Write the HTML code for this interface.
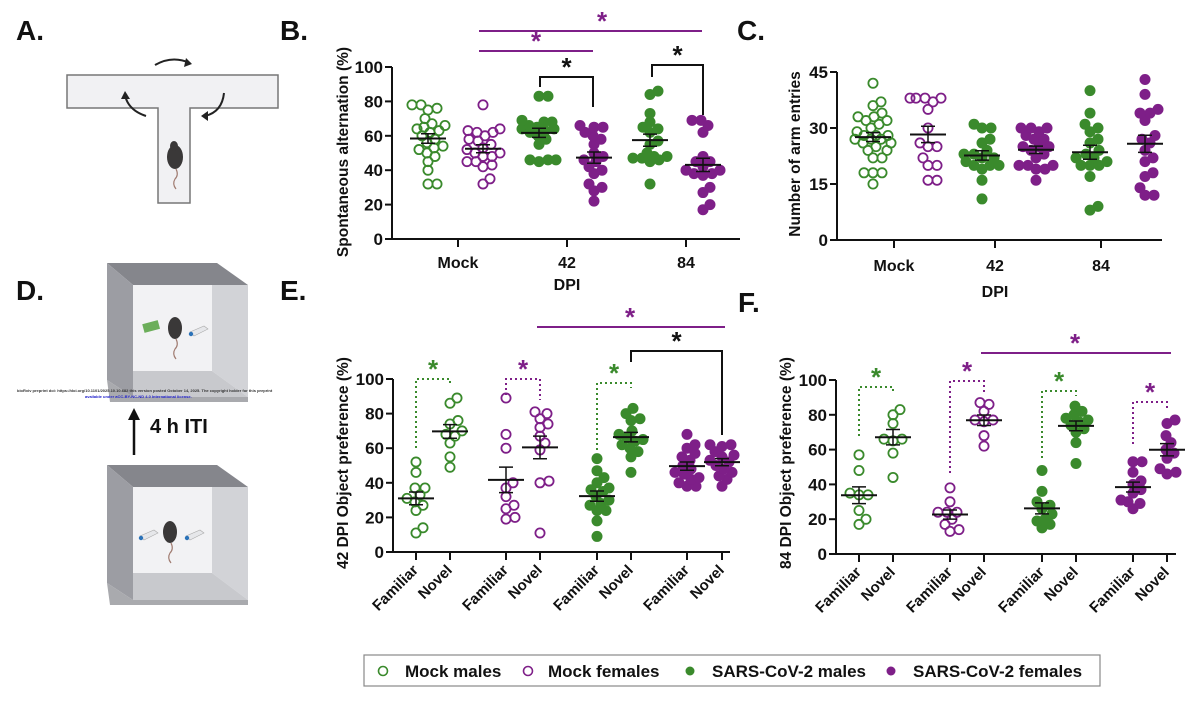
<!DOCTYPE html>
<html><head><meta charset="utf-8">
<style>
html,body{margin:0;padding:0;background:#fff;}
svg{display:block;font-family:"Liberation Sans",Arial,sans-serif;}
text{font-weight:bold;}
</style></head>
<body>
<svg id="fig" width="1200" height="702" viewBox="0 0 1200 702" xmlns="http://www.w3.org/2000/svg">
  <g font-size="28" fill="#111">
    <text x="16" y="40">A.</text>
    <text x="280" y="40">B.</text>
    <text x="737" y="40">C.</text>
    <text x="16" y="300">D.</text>
    <text x="280" y="300">E.</text>
    <text x="738" y="312">F.</text>
  </g>
  <g>
    <path d="M67,75 H278 V108 H190 V203 H158 V108 H67 Z" fill="#f1f1f3" stroke="#777" stroke-width="1.5"/>
    <path d="M155,65 Q172,55 190,63" fill="none" stroke="#222" stroke-width="2"/>
    <path d="M186,58 L192,64 L184,67 Z" fill="#222"/>
    <path d="M146,116 Q128,110 125,95" fill="none" stroke="#222" stroke-width="2"/>
    <path d="M121,99 L125,91 L130,99 Z" fill="#222"/>
    <path d="M224,93 Q222,112 205,116" fill="none" stroke="#222" stroke-width="2"/>
    <path d="M208,111 L201,116 L208,121 Z" fill="#222"/>
    <g>
      <ellipse cx="175" cy="157" rx="8" ry="12" fill="#3a3838"/>
      <ellipse cx="174" cy="146" rx="4" ry="5" fill="#3a3838"/>
      <path d="M176,169 q3,6 -1,10 q-3,5 1,10" fill="none" stroke="#a07b70" stroke-width="1.2"/>
    </g>
  </g>
  <g>
    <g>
      <rect x="133" y="285" width="80" height="86" fill="#f2f2f4"/>
      <polygon points="107,263 217,263 248,285 133,285" fill="#85868c"/>
      <polygon points="107,263 133,285 133,397 107,380" fill="#9c9da3"/>
      <polygon points="212,285 248,285 248,397 212,371" fill="#d2d3d7"/>
      <polygon points="133,371 212,371 248,397 133,397" fill="#c8c9cd"/>
      <polygon points="107,380 133,397 248,397 248,402 110,402" fill="#a9aaae"/>
      <rect x="143" y="322" width="16" height="9" fill="#6cae5a" transform="rotate(-15 151 326)"/>
      <ellipse cx="175" cy="328" rx="7" ry="11" fill="#3a3838"/>
      <path d="M176,339 q3,6 -1,10 q-3,5 1,10" fill="none" stroke="#a07b70" stroke-width="1.2"/>
      <path d="M190,332 L204,326 L208,329 L194,336 Z" fill="#e6e7ea" stroke="#aaa" stroke-width="0.6"/>
      <circle cx="191" cy="334" r="2.2" fill="#2b72b8"/>
    </g>
    <text x="17" y="392" font-size="4" font-weight="normal" fill="#333">bioRxiv preprint doi: https://doi.org/10.1101/2025.10.10.682 this version posted October 14, 2025. The copyright holder for this preprint</text>
    <text x="85" y="398" font-size="4" font-weight="normal" fill="#22c">available under aCC-BY-NC-ND 4.0 International license.</text>
    <line x1="134" y1="455" x2="134" y2="418" stroke="#111" stroke-width="2.5"/>
    <path d="M128,420 L134,408 L140,420 Z" fill="#111"/>
    <text x="150" y="433" font-size="20" fill="#111">4 h ITI</text>
    <g>
      <rect x="133" y="487" width="80" height="86" fill="#f2f2f4"/>
      <polygon points="107,465 217,465 248,487 133,487" fill="#85868c"/>
      <polygon points="107,465 133,487 133,600 107,583" fill="#9c9da3"/>
      <polygon points="212,487 248,487 248,600 212,573" fill="#d2d3d7"/>
      <polygon points="133,573 212,573 248,600 133,600" fill="#c8c9cd"/>
      <polygon points="107,583 133,600 248,600 248,605 110,605" fill="#a9aaae"/>
      <path d="M140,536 L154,530 L158,533 L144,540 Z" fill="#e6e7ea" stroke="#aaa" stroke-width="0.6"/>
      <circle cx="141" cy="538" r="2.2" fill="#2b72b8"/>
      <ellipse cx="170" cy="532" rx="7" ry="11" fill="#3a3838"/>
      <path d="M171,543 q3,6 -1,10 q-3,5 1,10" fill="none" stroke="#a07b70" stroke-width="1.2"/>
      <path d="M186,536 L200,530 L204,533 L190,540 Z" fill="#e6e7ea" stroke="#aaa" stroke-width="0.6"/>
      <circle cx="187" cy="538" r="2.2" fill="#2b72b8"/>
    </g>
  </g>
  <g>
    <rect x="364" y="655" width="736" height="31" fill="#fff" stroke="#888" stroke-width="1.2"/>
    <g>
      <circle cx="383" cy="671" r="4.5" fill="none" stroke="#3a8a2c" stroke-width="1.6"/>
      <text x="405" y="677" font-size="17" fill="#111">Mock males</text>
    </g>
    <g>
      <circle cx="528" cy="671" r="4.5" fill="none" stroke="#7e1f88" stroke-width="1.6"/>
      <text x="548" y="677" font-size="17" fill="#111">Mock females</text>
    </g>
    <g>
      <circle cx="690" cy="671" r="4.5" fill="#3a8a2c"/>
      <text x="712" y="677" font-size="17" fill="#111">SARS-CoV-2 males</text>
    </g>
    <g>
      <circle cx="891" cy="671" r="4.5" fill="#7e1f88"/>
      <text x="913" y="677" font-size="17" fill="#111">SARS-CoV-2 females</text>
    </g>
  </g>
  <g id="charts"></g>
</svg>
<script>
// ---------- Panel B: spontaneous alternation (%) ----------
const bCategories = ["Mock", "42", "84"];
const bYTicks = [0, 20, 40, 60, 80, 100];
const bMockMales = [78,78,76,75,70,67,65,66,64,62,63,60,58,56,54,53,52,50,48,45,40,32,32];
const bMockFemales = [78,64,63,62,62,60,58,57,55,53,52,50,50,48,48,45,45,43,42,35,32];
const b42Males = [83,83,69,68,68,66,65,64,64,63,62,60,58,55,46,46,46,45];
const b42Females = [66,65,65,62,60,58,55,50,48,46,45,42,40,38,32,30,28,22];
const b84Males = [86,84,73,68,65,64,62,57,55,50,48,48,47,46,47,45,32];
const b84Females = [69,69,66,62,48,45,45,42,40,40,38,38,37,30,27,20,17];

// ---------- Panel C: number of arm entries ----------
const cCategories = ["Mock", "42", "84"];
const cYTicks = [0, 15, 30, 45];
const cMockMales = [42,37,36,34,33,33,32,32,31,30,29,28,28,28,27,27,27,26,26,25,24,24,22,22,18,18,18,15];
const cMockFemales = [38,38,38,38,37,35,30,26,25,25,22,20,20,16,16];
const c42Males = [31,30,30,27,26,24,23,23,22,22,21,20,20,20,19,16,11];
const c42Females = [30,30,30,29,28,27,27,25,25,25,24,23,22,20,20,20,19,19,16];
const c84Males = [40,34,31,30,29,27,26,24,23,22,22,21,20,20,20,17,9,8];
const c84Females = [43,39,35,34,34,32,28,27,26,24,22,21,18,17,14,12,12];

// ---------- Panel E: 42 DPI object preference (%) ----------
const eCategories = ["Familiar","Novel","Familiar","Novel","Familiar","Novel","Familiar","Novel"];
const eYTicks = [0, 20, 40, 60, 80, 100];
const eMockMaleFam = [52,46,37,37,33,31,29,27,24,14,11];
const eMockMaleNov = [89,86,76,74,70,68,67,63,55,49];
const eMockFemFam = [89,68,60,40,37,32,27,25,20,19];
const eMockFemNov = [81,80,77,74,72,67,63,59,41,40,11];
const eSarsMaleFam = [54,47,43,40,37,36,35,32,30,28,27,24,24,18,9];
const eSarsMaleNov = [83,80,77,76,70,68,66,65,64,62,60,58,55,46];
const eSarsFemFam = [68,62,60,57,55,53,50,48,46,45,43,42,40,38,38];
const eSarsFemNov = [62,62,61,58,56,55,53,52,50,48,46,44,42,38];

// ---------- Panel F: 84 DPI object preference (%) ----------
const fCategories = ["Familiar","Novel","Familiar","Novel","Familiar","Novel","Familiar","Novel"];
const fYTicks = [0, 20, 40, 60, 80, 100];
const fMockMaleFam = [57,48,35,34,34,25,20,17];
const fMockMaleNov = [83,80,75,66,66,65,58,44];
const fMockFemFam = [38,30,24,24,24,20,17,13,14];
const fMockFemNov = [87,86,82,77,77,76,68,62];
const fSarsMaleFam = [48,36,30,28,26,23,20,19,17,15];
const fSarsMaleNov = [85,82,80,78,77,76,74,72,70,64,52];
const fSarsFemFam = [53,53,47,42,40,37,35,31,30,29,26];
const fSarsFemNov = [77,75,68,64,60,58,55,49,47,46];

const GREEN = "#3a8a2c", PURPLE = "#7e1f88";
const NS = "http://www.w3.org/2000/svg";
const root = document.getElementById("charts");

function mk(tag, attrs, parent){
  const e = document.createElementNS(NS, tag);
  for (const k in attrs) e.setAttribute(k, attrs[k]);
  parent.appendChild(e);
  return e;
}
function mean(a){ return a.reduce((s,v)=>s+v,0)/a.length; }
function sem(a){ const m=mean(a); const sd=Math.sqrt(a.reduce((s,v)=>s+(v-m)*(v-m),0)/(a.length-1)); return sd/Math.sqrt(a.length); }

function swarm(vals, cx, ys, maxW){
  const pts=[]; const sorted=vals.slice().sort((a,b)=>a-b);
  const d=8.5;
  for(const v of sorted){
    const y=ys(v); let best=0, bestScore=-1;
    for(let k=0;k<=2*maxW;k++){
      const off=(k%2?1:-1)*Math.ceil(k/2);
      const md = pts.length? Math.min(...pts.map(q=>Math.hypot(q.x-(cx+off),q.y-y))) : 99;
      if(md>=d){best=off;bestScore=99;break;}
      if(md>bestScore){bestScore=md;best=off;}
    }
    pts.push({x:cx+best,y});
  }
  return pts;
}

function chart(o){
  const g = mk("g", {}, root);
  
  
  const vmax = o.yTicks[o.yTicks.length-1];
  const ys = v => o.yBot - (v/vmax)*(o.yBot-o.yTop);
  const ya = mk("g", {}, g);
  
  
  mk("line", {x1:o.ax, y1:o.yTop, x2:o.ax, y2:o.yBot, stroke:"#111","stroke-width":2}, ya);
  o.yTicks.forEach(t=>{
    mk("line", {x1:o.ax-7, y1:ys(t), x2:o.ax, y2:ys(t), stroke:"#111","stroke-width":2}, ya);
    const tl = mk("text", {x:o.ax-9, y:ys(t)+6, "text-anchor":"end","font-size":17, fill:"#111"}, ya);
    
    
    tl.textContent = t;
  });
  const yt = mk("text", {x:0,y:0,"text-anchor":"middle","font-size":15.5, fill:"#111", transform:`translate(${o.titleX},${o.titleY}) rotate(-90)`}, ya);
  
  
  yt.textContent = o.yTitle;
  const xa = mk("g", {}, g);
  
  
  mk("line", {x1:o.ax-7, y1:o.yBot, x2:o.xEnd, y2:o.yBot, stroke:"#111","stroke-width":2}, xa);
  o.xTicks.forEach((tx,i)=>{
    mk("line", {x1:tx, y1:o.yBot, x2:tx, y2:o.yBot+8, stroke:"#111","stroke-width":2}, xa);
    let tl;
    if(o.rotLabels){
      tl = mk("text", {x:0,y:0,"text-anchor":"end","font-size":15, fill:"#111", transform:`translate(${tx+3},${o.yBot+19}) rotate(-45)`}, xa);
    } else {
      tl = mk("text", {x:tx, y:o.labelY, "text-anchor":"middle","font-size":16, fill:"#111"}, xa);
    }
    
    
    tl.textContent = o.categories[i];
  });
  if(o.xTitle){
    const xt = mk("text", {x:o.xTitleX, y:o.xTitleY, "text-anchor":"middle","font-size":16, fill:"#111"}, xa);
    
    
    xt.textContent = o.xTitle;
  }
  o.groups.forEach(gr=>{
    const sg = mk("g", {}, g);
    
    
    const pts = swarm(gr.vals, gr.cx, ys, o.maxW||14);
    pts.forEach(p=>{
      const c = mk("circle", {cx:p.x, cy:p.y, r: gr.filled?5.5:4.6, fill: gr.filled?gr.color:"none", stroke: gr.filled?"none":gr.color, "stroke-width":1.8}, sg);
      
      
    });
    const m = mean(gr.vals), s = sem(gr.vals);
    const ml = mk("line", {x1:gr.cx-18, y1:ys(m), x2:gr.cx+18, y2:ys(m), stroke:"#111","stroke-width":2}, sg);
    
    
    const eb = mk("path", {d:`M${gr.cx},${ys(m-s)}V${ys(m+s)}M${gr.cx-7},${ys(m-s)}H${gr.cx+7}M${gr.cx-7},${ys(m+s)}H${gr.cx+7}`, stroke:"#111","stroke-width":1.5, fill:"none"}, sg);
    
    
  });
  (o.sig||[]).forEach(s=>{
    const sgg = mk("g", {}, g);
    
    
    const attrs = {fill:"none", stroke:s.color, "stroke-width":2};
    if(s.dotted) attrs["stroke-dasharray"]="2 3";
    if(s.type==="line"){
      mk("line", Object.assign({x1:s.x1,y1:s.y,x2:s.x2,y2:s.y}, attrs), sgg);
    } else {
      mk("path", Object.assign({d:`M${s.x1},${s.l}V${s.y}H${s.x2}V${s.r}`}, attrs), sgg);
    }
    const st = mk("text", {x:(s.sx!==undefined?s.sx:(s.x1+s.x2)/2), y:s.y-1, "text-anchor":"middle","font-size":26, fill:s.color}, sgg);
    st.textContent = "*";
  });
}

chart({
  name:"panel-b-spontaneous-alternation", ax:392, yTop:67, yBot:239, xEnd:740, yTicks:bYTicks, maxW:17,
  xTicks:[458,567,686], categories:bCategories, labelY:268, xTitle:"DPI", xTitleX:567, xTitleY:290,
  yTitle:"Spontaneous alternation (%)", titleX:348, titleY:152,
  groups:[
    {name:"mock-males", cx:428, vals:bMockMales, filled:false, color:GREEN},
    {name:"mock-females", cx:483, vals:bMockFemales, filled:false, color:PURPLE},
    {name:"dpi42-males", cx:539, vals:b42Males, filled:true, color:GREEN},
    {name:"dpi42-females", cx:594, vals:b42Females, filled:true, color:PURPLE},
    {name:"dpi84-males", cx:650, vals:b84Males, filled:true, color:GREEN},
    {name:"dpi84-females", cx:703, vals:b84Females, filled:true, color:PURPLE}
  ],
  sig:[
    {type:"line", x1:479, x2:702, y:31, color:PURPLE, sx:602},
    {type:"line", x1:479, x2:593, y:51, color:PURPLE, sx:536},
    {type:"bracket", x1:540, x2:593, y:77, l:87, r:107, color:"#111"},
    {type:"bracket", x1:652, x2:703, y:65, l:77, r:115, color:"#111"}
  ]
});

chart({
  name:"panel-c-arm-entries", ax:837, yTop:72, yBot:240, xEnd:1162, yTicks:cYTicks, maxW:18,
  xTicks:[894,995,1101], categories:cCategories, labelY:271, xTitle:"DPI", xTitleX:995, xTitleY:297,
  yTitle:"Number of arm entries", titleX:800, titleY:154,
  groups:[
    {name:"mock-males", cx:873, vals:cMockMales, filled:false, color:GREEN},
    {name:"mock-females", cx:928, vals:cMockFemales, filled:false, color:PURPLE},
    {name:"dpi42-males", cx:982, vals:c42Males, filled:true, color:GREEN},
    {name:"dpi42-females", cx:1036, vals:c42Females, filled:true, color:PURPLE},
    {name:"dpi84-males", cx:1090, vals:c84Males, filled:true, color:GREEN},
    {name:"dpi84-females", cx:1145, vals:c84Females, filled:true, color:PURPLE}
  ]
});

chart({
  name:"panel-e-42dpi-object-preference", ax:393, yTop:379, yBot:552, xEnd:730, yTicks:eYTicks, maxW:12,
  xTicks:[416,450,506,540,597,631,687,722], categories:eCategories, rotLabels:true,
  yTitle:"42 DPI Object preference (%)", titleX:348, titleY:463,
  groups:[
    {name:"mock-males-familiar", cx:416, vals:eMockMaleFam, filled:false, color:GREEN},
    {name:"mock-males-novel", cx:450, vals:eMockMaleNov, filled:false, color:GREEN},
    {name:"mock-females-familiar", cx:506, vals:eMockFemFam, filled:false, color:PURPLE},
    {name:"mock-females-novel", cx:540, vals:eMockFemNov, filled:false, color:PURPLE},
    {name:"sars-males-familiar", cx:597, vals:eSarsMaleFam, filled:true, color:GREEN},
    {name:"sars-males-novel", cx:631, vals:eSarsMaleNov, filled:true, color:GREEN},
    {name:"sars-females-familiar", cx:687, vals:eSarsFemFam, filled:true, color:PURPLE},
    {name:"sars-females-novel", cx:722, vals:eSarsFemNov, filled:true, color:PURPLE}
  ],
  sig:[
    {type:"bracket", x1:416, x2:450, y:379, l:448, r:384, color:GREEN, dotted:true},
    {type:"bracket", x1:506, x2:540, y:379, l:395, r:400, color:PURPLE, dotted:true},
    {type:"bracket", x1:597, x2:631, y:383, l:450, r:388, color:GREEN, dotted:true},
    {type:"bracket", x1:631, x2:722, y:351, l:362, r:435, color:"#111"},
    {type:"line", x1:537, x2:725, y:327, color:PURPLE, sx:630}
  ]
});

chart({
  name:"panel-f-84dpi-object-preference", ax:836, yTop:380, yBot:554, xEnd:1176, yTicks:fYTicks, maxW:12,
  xTicks:[859,893,950,984,1042,1076,1133,1167], categories:fCategories, rotLabels:true,
  yTitle:"84 DPI Object preference (%)", titleX:791, titleY:463,
  groups:[
    {name:"mock-males-familiar", cx:859, vals:fMockMaleFam, filled:false, color:GREEN},
    {name:"mock-males-novel", cx:893, vals:fMockMaleNov, filled:false, color:GREEN},
    {name:"mock-females-familiar", cx:950, vals:fMockFemFam, filled:false, color:PURPLE},
    {name:"mock-females-novel", cx:984, vals:fMockFemNov, filled:false, color:PURPLE},
    {name:"sars-males-familiar", cx:1042, vals:fSarsMaleFam, filled:true, color:GREEN},
    {name:"sars-males-novel", cx:1076, vals:fSarsMaleNov, filled:true, color:GREEN},
    {name:"sars-females-familiar", cx:1133, vals:fSarsFemFam, filled:true, color:PURPLE},
    {name:"sars-females-novel", cx:1167, vals:fSarsFemNov, filled:true, color:PURPLE}
  ],
  sig:[
    {type:"bracket", x1:859, x2:893, y:387, l:436, r:392, color:GREEN, dotted:true},
    {type:"bracket", x1:950, x2:984, y:381, l:473, r:392, color:PURPLE, dotted:true},
    {type:"bracket", x1:1042, x2:1076, y:391, l:458, r:396, color:GREEN, dotted:true},
    {type:"bracket", x1:1133, x2:1167, y:402, l:444, r:409, color:PURPLE, dotted:true},
    {type:"line", x1:981, x2:1171, y:353, color:PURPLE, sx:1075}
  ]
});
</script>
</body></html>
